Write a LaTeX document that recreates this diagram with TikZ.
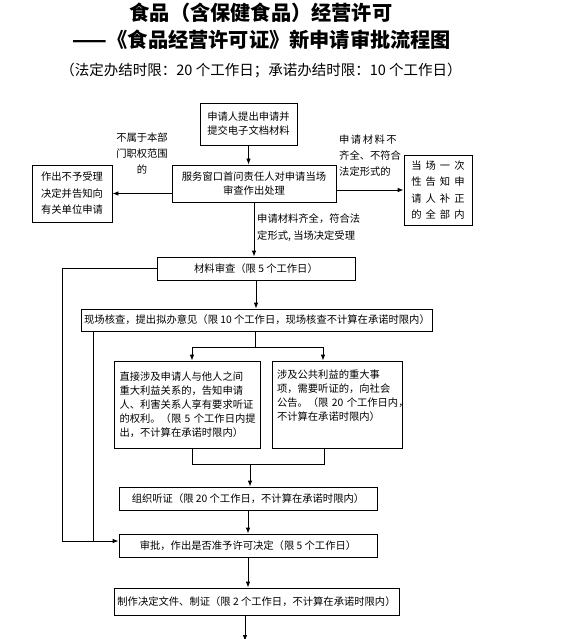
\documentclass[tikz,border=0pt]{standalone}
\usepackage{fontspec}
\setmainfont{Noto Sans CJK SC}
\usetikzlibrary{arrows.meta}
\newcommand{\wsp}{\hspace{4pt}}
\newcommand{\nsp}{\hspace{1.5pt}}
\begin{document}
\begin{tikzpicture}[
    x=1pt,y=-1pt,
    stage/.style={draw=black,line width=0.8pt,align=center,inner sep=3pt,
                  font=\fontsize{10.3}{14}\selectfont},
    note/.style={align=left,inner sep=0pt,font=\fontsize{10.3}{16}\selectfont},
    flow/.style={-{Latex[length=6pt,width=4.5pt]},line width=0.8pt,draw=black},
    wire/.style={line width=0.8pt,draw=black}
  ]
    \useasboundingbox (0,0) rectangle (571,639);

    \node[font=\fontsize{20.2}{21}\selectfont\bfseries] (title) at (261,13)
      {食品（含保健食品）经营许可};
    \node[font=\fontsize{20.2}{21}\selectfont\bfseries] (subject) at (262,40)
      {——《食品经营许可证》新申请审批流程图};
    \node[font=\fontsize{14.5}{15}\selectfont] (limits) at (261,70)
      {（法定办结时限：20 个工作日；承诺办结时限：10 个工作日）};

    \node[stage,minimum width=97pt,minimum height=42pt] (apply) at (248.5,124)
      {申请人提出申请并\\提交电子文档材料};
    \node[stage,minimum width=164pt,minimum height=37pt] (window) at (254,183.5)
      {服务窗口首问责任人对申请当场\\审查作出处理};
    \node[stage,minimum width=80pt,minimum height=57pt,
          font=\fontsize{10.3}{16.5}\selectfont] (reject) at (72,193.5)
      {作出不予受理\\决定并告知向\\有关单位申请};
    \node[stage,minimum width=68pt,minimum height=70pt,
          font=\fontsize{10.3}{16.5}\selectfont] (inform) at (438,190)
      {当\wsp{}场\wsp{}一\wsp{}次\\性\wsp{}告\wsp{}知\wsp{}申\\请\wsp{}人\wsp{}补\wsp{}正\\的\wsp{}全\wsp{}部\wsp{}内};

    \node[note,align=center] (scope) at (142,153)
      {不属于本部\\门职权范围\\的};
    \node[note,anchor=north west] (incomplete) at (339,135)
      {申\nsp{}请\nsp{}材\nsp{}料\nsp{}不\\齐全、不符合\\法定形式的};
    \node[note,anchor=north west,font=\fontsize{10.3}{17}\selectfont] (accept) at (257,214)
      {申请材料齐全，符合法\\定形式, 当场决定受理};

    \node[stage,minimum width=198pt,minimum height=23pt] (review) at (256,268.5)
      {材料审查（限 5 个工作日）};
    \node[stage,minimum width=348pt,minimum height=22pt] (check) at (257,320)
      {现场核查，提出拟办意见（限 10 个工作日，现场核查不计算在承诺时限内）};

    \node[stage,align=left,text width=136pt,inner xsep=5pt,
          minimum height=87pt] (hearL) at (187.5,404.5)
      {直接涉及申请人与他人之间\\重大利益关系的，告知申请\\人、利害关系人享有要求听证\\的权利。（限~5~个工作日内提\\出，不计算在承诺时限内）};
    \node[stage,align=left,text width=120pt,inner xsep=5pt,
          minimum height=87pt] (hearR) at (337,404.5)
      {涉及公共利益的重大事\\项，需要听证的，向社会\\公告。（限~20~个工作日内，\\不计算在承诺时限内）\\\strut};

    \node[stage,minimum width=258pt,minimum height=23pt] (hearing) at (248,498.5)
      {组织听证（限 20 个工作日，不计算在承诺时限内）};
    \node[stage,minimum width=258pt,minimum height=23pt] (approve) at (248,545.5)
      {审批，作出是否准予许可决定（限 5 个工作日）};
    \node[stage,minimum width=285pt,minimum height=27pt] (issue) at (256.5,601.5)
      {制作决定文件、制证（限 2 个工作日，不计算在承诺时限内）};

    \coordinate (fork) at (255,347);
    \coordinate (forkL) at (192,347);
    \coordinate (forkR) at (323,347);
    \coordinate (joinL) at (192,464);
    \coordinate (joinR) at (324,464);
    \coordinate (join) at (250,464);
    \coordinate (outer) at (62,541);
    \coordinate (inner) at (93,541);
    \coordinate (tail) at (245,641);

    \draw[flow] (apply.south) -- (apply.south |- window.north);
    \draw[flow] (reject.east -| window.west) -- (reject.east);
    \draw[flow] (window.east |- inform.west) -- (inform.west);
    \draw[flow] (window.south) -- (window.south |- review.north);
    \draw[flow] (review.south) -- (review.south |- check.north);

    \draw[wire] (fork |- check.south) -- (fork);
    \draw[wire] (forkL) -- (forkR);
    \draw[flow] (forkL) -- (forkL |- hearL.north);
    \draw[flow] (forkR) -- (forkR |- hearR.north);

    \draw[wire] (joinL |- hearL.south) -- (joinL) -- (joinR) -- (joinR |- hearR.south);
    \draw[flow] (join) -- (join |- hearing.north);
    \draw[flow] (hearing.south) -- (approve.north);
    \draw[flow] (approve.south) -- (approve.south |- issue.north);
    \draw[flow] (tail |- issue.south) -- (tail);

    \draw[wire] (review.west) -| (outer);
    \draw[wire] (check.south -| inner) -- (inner);
    \draw[flow] (outer) -- (approve.west |- outer);
  \end{tikzpicture}
\end{document}
